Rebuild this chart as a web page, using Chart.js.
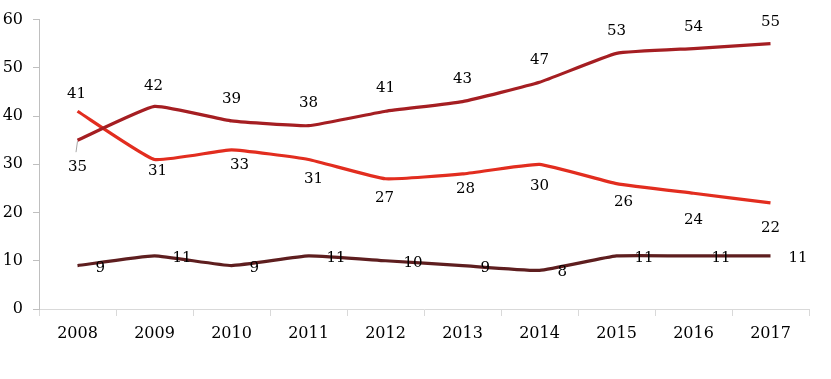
<!DOCTYPE html>
<html>
<head>
<meta charset="utf-8">
<script src="https://cdn.jsdelivr.net/npm/chart.js@4/dist/chart.umd.min.js"></script>
<style>
  html, body { margin: 0; padding: 0; background: #ffffff; }
  #wrap { width: 831px; height: 379px; position: relative; }
</style>
</head>
<body>
<div id="wrap"><canvas id="c" width="831" height="379"></canvas></div>
<script>
// ---- data ----
const years = ['2008','2009','2010','2011','2012','2013','2014','2015','2016','2017'];
const seriesA = [35, 42, 39, 38, 41, 43, 47, 53, 54, 55];
const seriesB = [41, 31, 33, 31, 27, 28, 30, 26, 24, 22];
const seriesC = [9, 11, 9, 11, 10, 9, 8, 11, 11, 11];
const yTicks = [0, 10, 20, 30, 40, 50, 60];

const FONT = '"DejaVu Serif", "Liberation Serif", serif';

// label placement styling (offsets in px relative to each point)
const labelStyle = [
  { align: 'center', dx: [0,-1,0,0,0,0,0,0,0,0], dy: [27,-20,-22,-23,-23,-22,-22,-22,-21,-22] },
  { align: 'center', dx: [-1,3,8,5,-1,3,0,7,0,0], dy: [-17,12,15,20,19,15,22,19,27,25] },
  { align: 'left',   dx: [18,18,18,18,18,18,18,18,18,18], dy: [3,2,3,2,2,3,2,2,2,2] }
];

const labelPlugin = {
  id: 'valueLabels',
  afterDatasetsDraw(chart) {
    const ctx = chart.ctx;
    ctx.save();
    ctx.font = '15px ' + FONT;
    ctx.fillStyle = '#000000';
    ctx.textBaseline = 'middle';
    chart.data.datasets.forEach((ds, di) => {
      const meta = chart.getDatasetMeta(di);
      const st = labelStyle[di];
      meta.data.forEach((pt, i) => {
        const x = pt.x + st.dx[i];
        const y = pt.y + st.dy[i];
        if (di === 0 && i === 0) {
          ctx.save();
          ctx.strokeStyle = '#a6a6a6';
          ctx.lineWidth = 1;
          ctx.beginPath();
          ctx.moveTo(pt.x, pt.y + 1);
          ctx.lineTo(pt.x - 1.5, pt.y + 12);
          ctx.stroke();
          ctx.restore();
        }
        ctx.textAlign = st.align;
        ctx.fillText(String(ds.data[i]), x, y);
      });
    });
    ctx.restore();
  }
};

new Chart(document.getElementById('c'), {
  type: 'line',
  data: {
    labels: years,
    datasets: [
      { data: seriesA, borderColor: '#a51e22', borderWidth: 3.2, tension: 0.12, pointRadius: 0, fill: false },
      { data: seriesB, borderColor: '#e22d1f', borderWidth: 3.2, tension: 0.12, pointRadius: 0, fill: false },
      { data: seriesC, borderColor: '#5e1e1f', borderWidth: 3.2, tension: 0.12, pointRadius: 0, fill: false }
    ]
  },
  options: {
    responsive: false,
    animation: false,
    events: [],
    layout: { padding: { top: 17, right: 22, left: 0, bottom: 0 } },
    plugins: { legend: { display: false }, tooltip: { enabled: false } },
    scales: {
      x: {
        type: 'category',
        offset: true,
        grid: { offset: true, drawOnChartArea: false, drawTicks: true, tickLength: 7, color: '#d9d9d9' },
        border: { color: '#d9d9d9', width: 1 },
        ticks: { color: '#000000', font: { family: FONT, size: 16 }, padding: 8, maxRotation: 0 },
        afterFit(scale) { scale.height = 70; }
      },
      y: {
        min: 0,
        max: 60,
        afterBuildTicks(scale) { scale.ticks = yTicks.map(v => ({ value: v })); },
        grid: { drawOnChartArea: false, drawTicks: true, tickLength: 6, color: '#bfbfbf' },
        border: { color: '#bfbfbf', width: 1 },
        ticks: { color: '#000000', font: { family: FONT, size: 16 }, padding: 10 },
        afterFit(scale) { scale.width = 39; }
      }
    }
  },
  plugins: [labelPlugin]
});
</script>
</body>
</html>
